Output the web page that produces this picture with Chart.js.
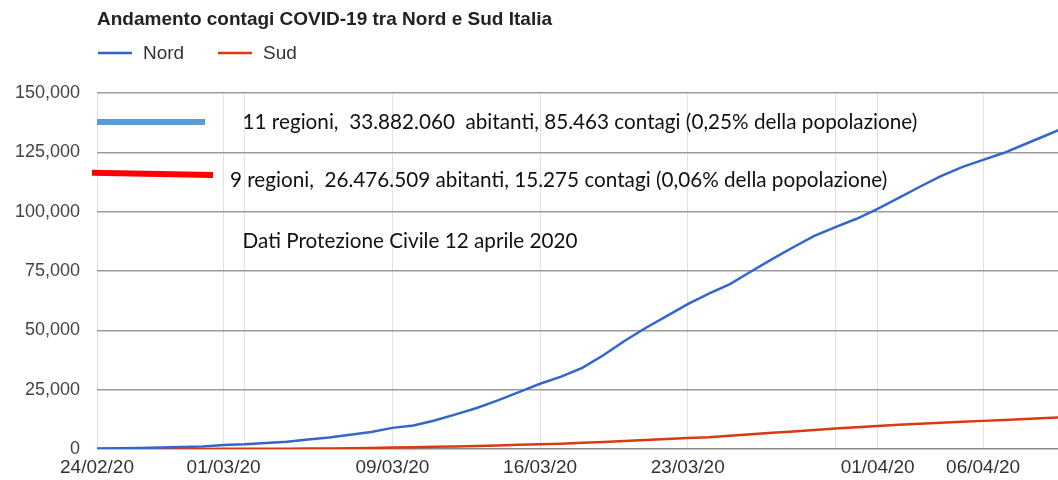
<!DOCTYPE html>
<html>
<head>
<meta charset="utf-8">
<script src="https://cdn.jsdelivr.net/npm/chart.js@4.4.1/dist/chart.umd.min.js"></script>
<style>
  html, body { margin: 0; padding: 0; background: #fff; }
  #wrap { width: 1058px; height: 480px; }
</style>
</head>
<body>
<div id="wrap"><canvas id="contagiChart"></canvas></div>
<script>
// Dati (un valore al giorno dal 24/02/20)
const dates = ['24/02/20', '25/02/20', '26/02/20', '27/02/20', '28/02/20', '29/02/20',
    '01/03/20', '02/03/20', '03/03/20', '04/03/20', '05/03/20', '06/03/20', '07/03/20',
    '08/03/20', '09/03/20', '10/03/20', '11/03/20', '12/03/20', '13/03/20', '14/03/20',
    '15/03/20', '16/03/20', '17/03/20', '18/03/20', '19/03/20', '20/03/20', '21/03/20',
    '22/03/20', '23/03/20', '24/03/20', '25/03/20', '26/03/20', '27/03/20', '28/03/20',
    '29/03/20', '30/03/20', '31/03/20', '01/04/20', '02/04/20', '03/04/20', '04/04/20',
    '05/04/20', '06/04/20', '07/04/20', '08/04/20', '09/04/20', '10/04/20'];
const nord = [200, 300, 380, 600, 820, 1050, 1700, 1950, 2500, 3100, 4000, 4800, 6000,
    7200, 8900, 9900, 12000, 14600, 17300, 20500, 24000, 27500, 30500, 34200, 39500,
    45500, 51000, 56000, 61000, 65500, 69500, 74800, 80000, 85000, 89800, 93500, 97000,
    101200, 105800, 110500, 115000, 118800, 121800, 124800, 128500, 132200, 136000];
const sud = [10, 15, 20, 30, 40, 50, 70, 90, 120, 150, 200, 260, 330, 450, 600, 750,
    900, 1050, 1250, 1500, 1750, 1950, 2250, 2600, 3000, 3400, 3800, 4200, 4600, 5000,
    5600, 6200, 6800, 7400, 8000, 8600, 9150, 9700, 10200, 10650, 11050, 11450, 11850,
    12250, 12650, 13100, 13500];
const seriesNames = ['Nord', 'Sud'];
const tickDays = [0, 6, 14, 21, 28, 37, 42];
const gridDays = [0, 6, 7, 14, 21, 28, 35, 37, 42];
const yTicks = [0, 25000, 50000, 75000, 100000, 125000, 150000];

const titleText = 'Andamento contagi COVID-19 tra Nord e Sud Italia';
const noteNord = '11 regioni,  33.882.060  abitanti, 85.463 contagi (0,25% della popolazione)';
const noteSud = '9 regioni,  26.476.509 abitanti, 15.275 contagi (0,06% della popolazione)';
const noteFonte = 'Dati Protezione Civile 12 aprile 2020';

const toPoints = arr => arr.map((v, i) => ({ x: i, y: v }));

// titolo, legenda e note incollate sopra il grafico
const overlay = {
    id: 'overlay',
    afterDraw(chart) {
        const ctx = chart.ctx;
        const xs = chart.scales.x, ys = chart.scales.y;
        const px = d => xs.getPixelForValue(d);
        const py = v => ys.getPixelForValue(v);
        ctx.save();
        ctx.textBaseline = 'middle';
        ctx.textAlign = 'left';

        ctx.fillStyle = '#222';
        ctx.font = 'bold 19px "Liberation Sans", Arial, sans-serif';
        ctx.fillText(titleText, 97, 20);

        ctx.font = '19px "Liberation Sans", Arial, sans-serif';
        const legendX = [98, 218];
        chart.data.datasets.forEach((ds, i) => {
            ctx.strokeStyle = ds.borderColor;
            ctx.lineWidth = 2.5;
            ctx.beginPath();
            ctx.moveTo(legendX[i], 53);
            ctx.lineTo(legendX[i] + 34, 53);
            ctx.stroke();
            ctx.fillStyle = '#333';
            ctx.fillText(ds.label, legendX[i] + 45, 54);
        });

        ctx.lineWidth = 6;
        ctx.strokeStyle = '#5b9bd5';
        ctx.beginPath();
        ctx.moveTo(px(0), py(137800));
        ctx.lineTo(px(5.12), py(137800));
        ctx.stroke();
        ctx.strokeStyle = '#ff0000';
        ctx.beginPath();
        ctx.moveTo(px(-0.24), py(116400));
        ctx.lineTo(px(5.5), py(115500));
        ctx.stroke();

        ctx.fillStyle = '#111';
        ctx.font = '20.7px Lato, "Open Sans", sans-serif';
        ctx.fillText(noteNord, px(6.9), py(137800));
        ctx.fillText(noteSud, px(6.3), py(113300));
        ctx.fillText(noteFonte, px(6.9), py(87600));
        ctx.restore();
    }
};

const ctx1 = document.getElementById('contagiChart').getContext('2d');
new Chart(ctx1, {
    type: 'line',
    data: {
        datasets: [{
            label: seriesNames[0],
            data: toPoints(nord),
            borderColor: '#3366cc',
            borderWidth: 2.5,
            pointRadius: 0,
            tension: 0
        }, {
            label: seriesNames[1],
            data: toPoints(sud),
            borderColor: '#dc3912',
            borderWidth: 2.5,
            pointRadius: 0,
            tension: 0
        }]
    },
    options: {
        responsive: true,
        maintainAspectRatio: false,
        animation: false,
        layout: { padding: { top: 93, left: 0, right: 0, bottom: 0 } },
        plugins: {
            legend: { display: false },
            title: { display: false },
            tooltip: { enabled: false }
        },
        scales: {
            x: {
                type: 'linear',
                min: 0,
                max: 45.55,
                afterBuildTicks: s => { s.ticks = gridDays.map(v => ({ value: v })); },
                afterFit: s => { s.height = 31; },
                ticks: {
                    autoSkip: false,
                    maxRotation: 0,
                    padding: 7,
                    color: '#333',
                    font: { family: '"Liberation Sans", Arial, sans-serif', size: 19 },
                    callback: v => tickDays.includes(v) ? dates[v] : ''
                },
                grid: { color: '#e2e2e2', drawTicks: false },
                border: { display: false }
            },
            y: {
                min: 0,
                max: 150000,
                afterBuildTicks: s => { s.ticks = yTicks.map(v => ({ value: v })); },
                afterFit: s => { s.width = 97; },
                ticks: {
                    padding: 17,
                    color: '#444',
                    font: { family: '"Liberation Sans", Arial, sans-serif', size: 18 },
                    callback: v => v.toLocaleString('en-US')
                },
                grid: {
                    color: ctx => ctx.tick && ctx.tick.value === 0 ? '#888' : '#9c9c9c',
                    lineWidth: 1.5,
                    drawTicks: false
                },
                border: { display: false }
            }
        }
    },
    plugins: [overlay]
});
</script>
</body>
</html>
